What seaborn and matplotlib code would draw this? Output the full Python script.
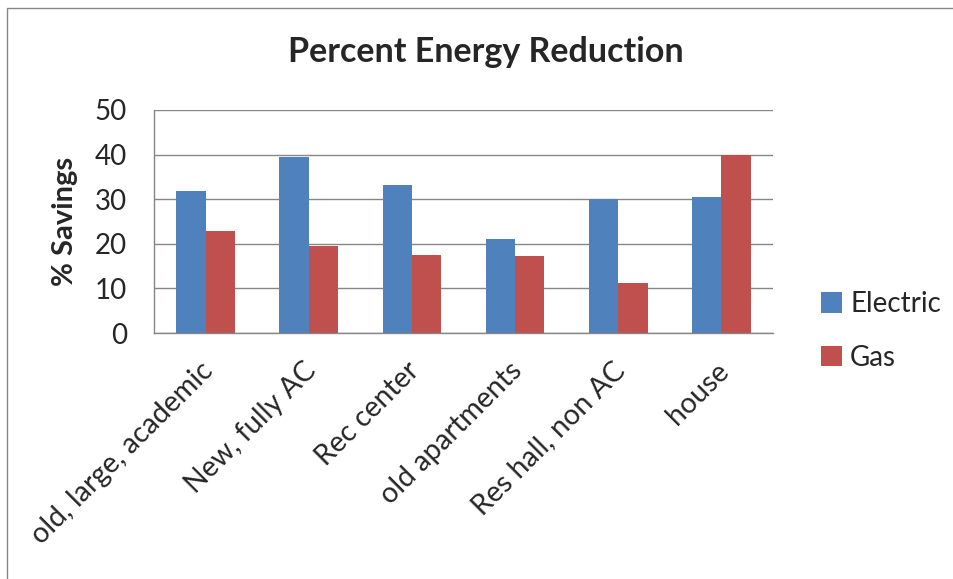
import matplotlib
matplotlib.use("Agg")
import matplotlib.pyplot as plt
import matplotlib.transforms as mtransforms
from matplotlib.patches import Rectangle
import numpy as np
import pandas as pd
import seaborn as sns

# Building types and percent savings per fuel
categories = ["old, large, academic", "New, fully AC", "Rec center",
              "old apartments", "Res hall, non AC", "house"]
electric = [31.9, 39.5, 33.2, 21.1, 30.0, 30.5]
gas = [22.9, 19.4, 17.6, 17.2, 11.3, 40.0]
series = ["Electric", "Gas"]
y_ticks = [0, 10, 20, 30, 40, 50]

df = pd.DataFrame({
    "Building": categories * 2,
    "Fuel": ["Electric"] * len(categories) + ["Gas"] * len(categories),
    "Savings": electric + gas,
})

sns.set_theme(style="white")
plt.rcParams["font.family"] = ["Lato", "DejaVu Sans"]

GRID = "#868686"
palette = {"Electric": "#4F81BD", "Gas": "#C0504D"}
FS = 20

fig = plt.figure(figsize=(9.54, 5.79), dpi=100)
ax = fig.add_axes([154 / 954, 1 - 333 / 579, (773 - 154) / 954, (333 - 110) / 579])

sns.barplot(data=df, x="Building", y="Savings", hue="Fuel", order=categories,
            hue_order=series, palette=palette, width=0.57, gap=0,
            saturation=1, ax=ax, legend=True, linewidth=0)

ax.set_xlim(-0.5, len(categories) - 0.5)
ax.set_ylim(0, 50)
ax.set_yticks(y_ticks)
ax.set_axisbelow(True)
ax.yaxis.grid(True, color=GRID, linewidth=1.0)
ax.xaxis.grid(False)

for side in ["top", "right"]:
    ax.spines[side].set_visible(False)
for side in ["left", "bottom"]:
    ax.spines[side].set_color(GRID)
    ax.spines[side].set_linewidth(1.0)

# Category separators as minor ticks; labels on the hidden major ticks
ax.set_xticks(np.arange(-0.5, len(categories)), minor=True)
ax.tick_params(axis="x", which="minor", length=6.5, width=1.0, color=GRID, direction="out")
ax.tick_params(axis="x", which="major", length=0, pad=4)
ax.tick_params(axis="y", which="major", length=6.5, width=1.0, color=GRID,
               direction="out", pad=13, labelsize=FS)

ax.set_xticks(range(len(categories)))
ax.set_xticklabels(categories, rotation=45, ha="right", va="center",
                   rotation_mode="anchor", fontsize=FS + 0.5)
offset = mtransforms.ScaledTranslation(3 / 100, -28 / 100, fig.dpi_scale_trans)
for lbl in ax.get_xticklabels():
    lbl.set_transform(lbl.get_transform() + offset)

ax.set_xlabel("")
ax.set_ylabel("% Savings", fontsize=21, fontweight="bold", labelpad=12)

fig.text(486 / 954, 1 - 52 / 579, "Percent Energy Reduction", ha="center",
         va="center", fontsize=24.5, fontweight="bold")

handles, labels = ax.get_legend_handles_labels()
ax.get_legend().remove()
fig.legend(handles, labels, loc="center left", bbox_to_anchor=(796 / 954, 1 - 331 / 579),
           frameon=False, fontsize=FS, handlelength=0.75, handleheight=0.75,
           handletextpad=0.3, labelspacing=1.0)

# Chart-area border
fig.patches.append(Rectangle((7 / 954, -0.1), 1.1, 1 - 8 / 579 + 0.1,
                             transform=fig.transFigure, fill=False,
                             edgecolor=GRID, linewidth=1.0))

fig.savefig("out.png", dpi=100)
